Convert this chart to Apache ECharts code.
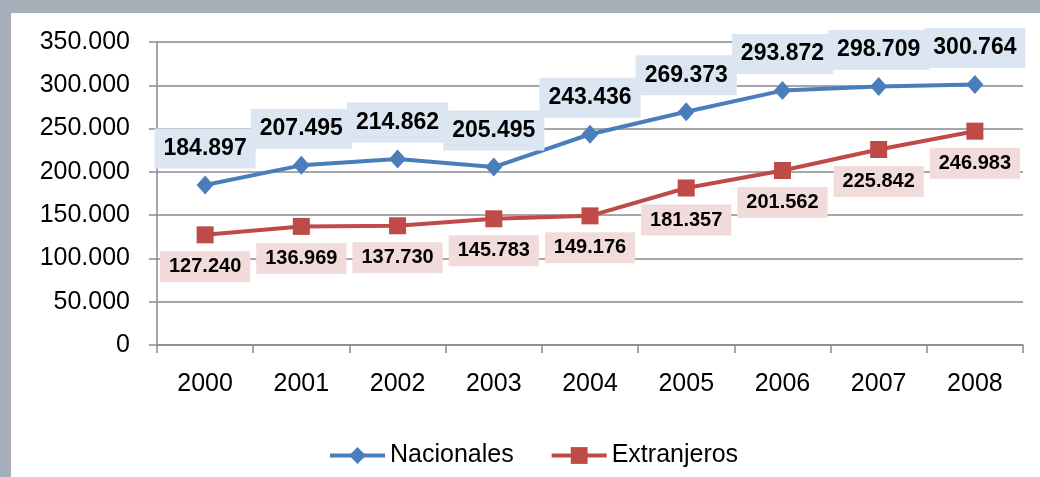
<!DOCTYPE html>
<html>
<head>
<meta charset="utf-8">
<script src="https://cdn.jsdelivr.net/npm/echarts@6/dist/echarts.min.js"></script>
<style>
    html, body { margin: 0; padding: 0; }
    #frame {
        width: 1040px; height: 477px; box-sizing: border-box;
        background: #fff;
        border-left: 11px solid #a5aeb9;
        border-top: 13px solid #a5aeb9;
    }
    #main { width: 1029px; height: 464px; }
</style>
</head>
<body>
<div id="frame"><div id="main"></div></div>
<script>
    // datos del gráfico
    var years = ['2000', '2001', '2002', '2003', '2004', '2005', '2006', '2007', '2008'];
    var nacionales = [184897, 207495, 214862, 205495, 243436, 269373, 293872, 298709, 300764];
    var extranjeros = [127240, 136969, 137730, 145783, 149176, 181357, 201562, 225842, 246983];

    // separador de miles con punto
    function fmt(v) {
        return String(v).replace(/\B(?=(\d{3})+(?!\d))/g, '.');
    }

    var font = "'Liberation Sans', Arial, sans-serif";
    var gray = '#8a8a8a';

    var myChart = echarts.init(document.getElementById('main'));
    var option = {
        animation: false,
        textStyle: {fontFamily: font},
        grid: {left: 146, right: 17, top: 29, bottom: 132},
        legend: {
            left: 312,
            top: 425,
            itemWidth: 55,
            itemHeight: 21,
            itemGap: 36,
            lineStyle: {width: 4},
            textStyle: {fontSize: 25, color: '#000', fontFamily: font},
            data: ['Nacionales', 'Extranjeros']
        },
        xAxis: {
            type: 'category',
            data: years,
            boundaryGap: true,
            axisLine: {lineStyle: {color: gray, width: 1.5}},
            axisTick: {show: true, length: 8, interval: 0, lineStyle: {color: gray, width: 1.5}},
            axisLabel: {fontSize: 25, color: '#000', margin: 27, fontFamily: font}
        },
        yAxis: {
            type: 'value',
            min: 0,
            max: 350000,
            interval: 50000,
            axisLine: {show: true, lineStyle: {color: gray, width: 1.5}},
            axisTick: {show: true, length: 8, lineStyle: {color: gray, width: 1.5}},
            axisLabel: {fontSize: 25, color: '#000', margin: 27, fontFamily: font, formatter: fmt},
            splitLine: {lineStyle: {color: gray, width: 1.5}}
        },
        series: [
            {
                name: 'Nacionales',
                type: 'line',
                data: nacionales,
                symbol: 'diamond',
                symbolSize: [17, 19],
                lineStyle: {color: '#4a7ebb', width: 4},
                itemStyle: {color: '#4a7ebb'},
                label: {
                    show: true,
                    position: 'top',
                    distance: 7,
                    formatter: function (p) { return fmt(p.value); },
                    fontSize: 23,
                    fontWeight: 'bold',
                    lineHeight: 24,
                    color: '#000',
                    fontFamily: font,
                    backgroundColor: '#dce6f2',
                    padding: [8, 9, 8, 9]
                }
            },
            {
                name: 'Extranjeros',
                type: 'line',
                data: extranjeros,
                symbol: 'rect',
                symbolSize: 17,
                lineStyle: {color: '#be4b48', width: 4},
                itemStyle: {color: '#be4b48'},
                label: {
                    show: true,
                    position: 'bottom',
                    distance: 8,
                    formatter: function (p) { return fmt(p.value); },
                    fontSize: 20,
                    fontWeight: 'bold',
                    lineHeight: 21,
                    color: '#000',
                    fontFamily: font,
                    backgroundColor: '#f2dcdb',
                    padding: [5, 9, 5, 9]
                }
            }
        ]
    };
    myChart.setOption(option);
</script>
</body>
</html>
